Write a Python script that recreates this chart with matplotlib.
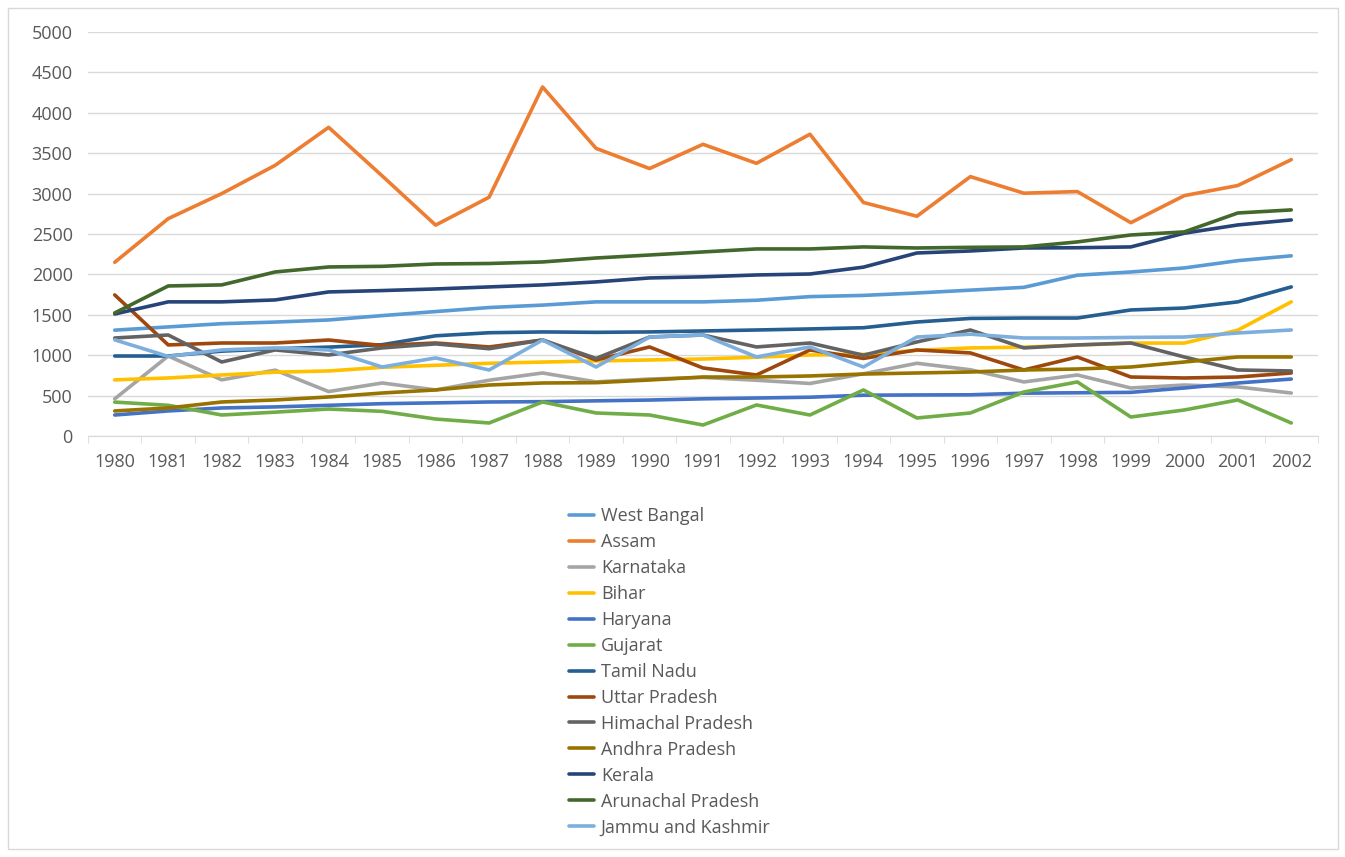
import matplotlib
matplotlib.use("Agg")
import matplotlib.pyplot as plt
import numpy as np
from matplotlib.patches import Rectangle

plt.rcParams['font.family'] = ['Open Sans', 'DejaVu Sans']

years = [str(y) for y in range(1980, 2003)]

west_bengal = [1310, 1350, 1390, 1410, 1436, 1490, 1540, 1590, 1620, 1660, 1660, 1660, 1680,
               1725, 1740, 1770, 1805, 1840, 1990, 2030, 2080, 2170, 2230]
assam = [2150, 2690, 3000, 3350, 3820, 3220, 2610, 2955, 4320, 3560, 3310, 3610, 3375,
         3735, 2890, 2720, 3210, 3005, 3025, 2640, 2975, 3100, 3420]
karnataka = [460, 990, 695, 815, 550, 656, 570, 690, 780, 670, 705, 725, 690,
             650, 770, 900, 820, 669, 755, 594, 631, 607, 532]
bihar = [695, 718, 755, 790, 805, 850, 875, 900, 915, 929, 941, 953, 975,
         1003, 1010, 1060, 1090, 1100, 1125, 1150, 1150, 1310, 1660]
haryana = [260, 310, 347, 360, 380, 400, 410, 421, 425, 435, 445, 460, 470,
           480, 505, 508, 510, 530, 535, 540, 594, 656, 705]
gujarat = [420, 380, 260, 295, 334, 305, 210, 161, 421, 285, 260, 136, 384,
           260, 570, 223, 285, 545, 669, 235, 322, 446, 161]
tamil_nadu = [990, 990, 1050, 1080, 1100, 1130, 1240, 1278, 1288, 1283, 1288, 1300, 1312,
              1325, 1340, 1411, 1455, 1460, 1460, 1560, 1584, 1660, 1845]
uttar_pradesh = [1746, 1127, 1151, 1151, 1188, 1120, 1151, 1102, 1188, 941, 1102, 842, 755,
                 1065, 960, 1065, 1028, 817, 978, 730, 718, 730, 780]
himachal_pradesh = [1213, 1250, 916, 1065, 1003, 1090, 1140, 1080, 1188, 960, 1225, 1250, 1102,
                    1151, 1000, 1164, 1312, 1090, 1127, 1151, 978, 817, 805]
andhra_pradesh = [310, 347, 421, 446, 483, 532, 570, 631, 656, 660, 693, 730, 730,
                  743, 767, 780, 792, 817, 829, 854, 916, 978, 978]
kerala = [1510, 1660, 1660, 1684, 1783, 1800, 1820, 1845, 1870, 1907, 1956, 1970, 1993,
          2005, 2090, 2265, 2290, 2327, 2330, 2340, 2510, 2612, 2674]
arunachal_pradesh = [1523, 1857, 1870, 2030, 2092, 2100, 2129, 2135, 2154, 2203, 2240, 2278, 2315,
                     2315, 2340, 2327, 2335, 2340, 2402, 2488, 2526, 2760, 2798]
jammu_kashmir = [1190, 985, 1065, 1090, 1065, 854, 966, 817, 1188, 854, 1225, 1250, 978,
                 1102, 854, 1225, 1260, 1213, 1213, 1220, 1225, 1275, 1312]

series = [
    ("West Bangal", west_bengal, "#5B9BD5"),
    ("Assam", assam, "#ED7D31"),
    ("Karnataka", karnataka, "#A5A5A5"),
    ("Bihar", bihar, "#FFC000"),
    ("Haryana", haryana, "#4472C4"),
    ("Gujarat", gujarat, "#70AD47"),
    ("Tamil Nadu", tamil_nadu, "#255E91"),
    ("Uttar Pradesh", uttar_pradesh, "#9E480E"),
    ("Himachal Pradesh", himachal_pradesh, "#636363"),
    ("Andhra Pradesh", andhra_pradesh, "#997300"),
    ("Kerala", kerala, "#264478"),
    ("Arunachal Pradesh", arunachal_pradesh, "#43682B"),
    ("Jammu and Kashmir", jammu_kashmir, "#7CAFDD"),
]

W, H = 1345, 857
fig = plt.figure(figsize=(W / 100, H / 100), dpi=100)
fig.patch.set_facecolor("white")

# chart-area border
fig.add_artist(Rectangle((8 / W, 8 / H), (1338 - 8) / W, (849 - 8) / H,
                         transform=fig.transFigure, fill=False,
                         edgecolor="#D9D9D9", linewidth=1.0))

left, right, top, bottom = 88, 1318, 32, 436
ax = fig.add_axes([left / W, 1 - bottom / H, (right - left) / W, (bottom - top) / H])

x = np.arange(len(years))
for name, vals, col in series:
    ax.plot(x, vals, color=col, lw=2.6, label=name, solid_capstyle="round",
            solid_joinstyle="round")

ax.set_xlim(-0.5, len(years) - 0.5)
ax.set_ylim(0, 5000)
ax.set_yticks(np.arange(0, 5001, 500))
ax.set_xticks(x)
ax.set_xticklabels(years)
ax.set_xticks(np.arange(-0.5, len(years), 1.0), minor=True)

ax.grid(axis="y", color="#D9D9D9", lw=1.0)
ax.set_axisbelow(True)
for s in ["left", "right", "top"]:
    ax.spines[s].set_visible(False)
ax.spines["bottom"].set_color("#D9D9D9")
ax.tick_params(axis="y", length=0, labelsize=13, labelcolor="#595959", pad=11)
ax.tick_params(axis="x", which="major", length=0, labelsize=13, labelcolor="#595959", pad=12)
ax.tick_params(axis="x", which="minor", length=5, color="#D9D9D9")

handles, labels = ax.get_legend_handles_labels()
fig.legend(handles, labels, loc="upper left", bbox_to_anchor=(562 / W, 1 - 500 / H),
           frameon=False, fontsize=13, labelcolor="#595959", handlelength=1.35,
           handletextpad=0.4, labelspacing=0.44, borderaxespad=0)

fig.savefig("out.png", dpi=100, facecolor="white")
